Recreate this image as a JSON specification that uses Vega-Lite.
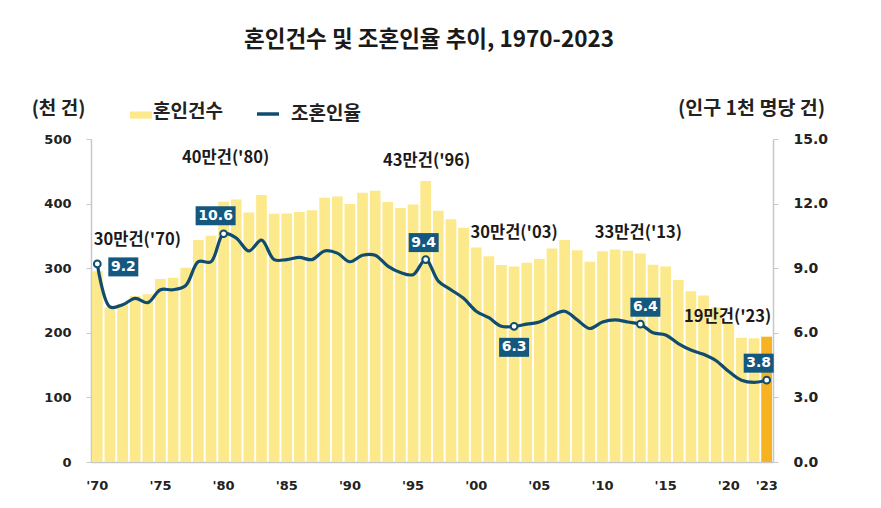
{
  "$schema": "https://vega.github.io/schema/vega-lite/v6.json",
  "width": 682,
  "height": 323,
  "autosize": {"type": "none"},
  "padding": {"left": 91, "top": 139, "right": 108, "bottom": 46},
  "background": "white",
  "title": {
    "text": "혼인건수 및 조혼인율 추이, 1970-2023",
    "font": "Noto Sans CJK KR",
    "fontSize": 22.5,
    "fontWeight": "bold",
    "color": "#1a1a1a",
    "anchor": "middle",
    "dx": -3,
    "offset": 47
  },
  "data": {
    "values": [
      {"year": 1970, "count": 295.1, "rate": 9.2, "note": "30만건('70)"},
      {"year": 1971, "count": 239.5, "rate": 7.2},
      {"year": 1972, "count": 244.8, "rate": 7.3},
      {"year": 1973, "count": 257.0, "rate": 7.6},
      {"year": 1974, "count": 259.6, "rate": 7.4},
      {"year": 1975, "count": 283.2, "rate": 8.0},
      {"year": 1976, "count": 285.4, "rate": 8.0},
      {"year": 1977, "count": 300.6, "rate": 8.2},
      {"year": 1978, "count": 343.6, "rate": 9.3},
      {"year": 1979, "count": 350.4, "rate": 9.3},
      {"year": 1980, "count": 403.0, "rate": 10.6, "note": "40만건('80)"},
      {"year": 1981, "count": 406.5, "rate": 10.4},
      {"year": 1982, "count": 386.2, "rate": 9.8},
      {"year": 1983, "count": 413.2, "rate": 10.3},
      {"year": 1984, "count": 384.3, "rate": 9.4},
      {"year": 1985, "count": 384.6, "rate": 9.4},
      {"year": 1986, "count": 387.0, "rate": 9.5},
      {"year": 1987, "count": 389.8, "rate": 9.4},
      {"year": 1988, "count": 409.2, "rate": 9.8},
      {"year": 1989, "count": 411.1, "rate": 9.7},
      {"year": 1990, "count": 399.3, "rate": 9.3},
      {"year": 1991, "count": 416.9, "rate": 9.6},
      {"year": 1992, "count": 419.8, "rate": 9.6},
      {"year": 1993, "count": 402.6, "rate": 9.1},
      {"year": 1994, "count": 393.1, "rate": 8.8},
      {"year": 1995, "count": 398.5, "rate": 8.7},
      {"year": 1996, "count": 434.9, "rate": 9.4, "note": "43만건('96)"},
      {"year": 1997, "count": 388.9, "rate": 8.4},
      {"year": 1998, "count": 375.6, "rate": 8.0},
      {"year": 1999, "count": 362.7, "rate": 7.6},
      {"year": 2000, "count": 332.1, "rate": 7.0},
      {"year": 2001, "count": 318.4, "rate": 6.7},
      {"year": 2002, "count": 304.9, "rate": 6.3},
      {"year": 2003, "count": 302.5, "rate": 6.3, "note": "30만건('03)"},
      {"year": 2004, "count": 308.6, "rate": 6.4},
      {"year": 2005, "count": 314.3, "rate": 6.5},
      {"year": 2006, "count": 330.6, "rate": 6.8},
      {"year": 2007, "count": 343.6, "rate": 7.0},
      {"year": 2008, "count": 327.7, "rate": 6.6},
      {"year": 2009, "count": 309.8, "rate": 6.2},
      {"year": 2010, "count": 326.1, "rate": 6.5},
      {"year": 2011, "count": 329.1, "rate": 6.6},
      {"year": 2012, "count": 327.1, "rate": 6.5},
      {"year": 2013, "count": 322.8, "rate": 6.4, "note": "33만건('13)"},
      {"year": 2014, "count": 305.5, "rate": 6.0},
      {"year": 2015, "count": 302.8, "rate": 5.9},
      {"year": 2016, "count": 281.6, "rate": 5.5},
      {"year": 2017, "count": 264.5, "rate": 5.2},
      {"year": 2018, "count": 257.6, "rate": 5.0},
      {"year": 2019, "count": 239.2, "rate": 4.7},
      {"year": 2020, "count": 213.5, "rate": 4.2},
      {"year": 2021, "count": 192.5, "rate": 3.8},
      {"year": 2022, "count": 191.7, "rate": 3.7},
      {"year": 2023, "count": 193.7, "rate": 3.8, "note": "19만건('23)"}
    ]
  },
  "encoding": {
    "x": {
      "field": "year",
      "type": "ordinal",
      "scale": {"paddingInner": 0.15, "paddingOuter": 0.075},
      "axis": {
        "title": null,
        "values": [1970, 1975, 1980, 1985, 1990, 1995, 2000, 2005, 2010, 2015, 2020, 2023],
        "labelExpr": "\"'\" + substring(datum.label, 2, 4)",
        "labelAngle": 0,
        "labelFont": "DejaVu Sans",
        "labelFontSize": 13,
        "labelFontWeight": "bold",
        "labelColor": "#222222",
        "labelPadding": 17,
        "ticks": false,
        "domainColor": "#C8C8C8",
        "domainWidth": 1.5
      }
    }
  },
  "layer": [
    {
      "encoding": {
        "y": {
          "field": "count",
          "type": "quantitative",
          "scale": {"domain": [0, 500]},
          "axis": {
            "values": [0, 100, 200, 300, 400, 500],
            "title": "(천 건)",
            "titleAngle": 0,
            "titleX": -33,
            "titleY": -31,
            "titleAlign": "center",
            "titleBaseline": "middle",
            "titleFont": "Noto Sans CJK KR",
            "titleFontSize": 19,
            "titleFontWeight": "bold",
            "titleColor": "#222222",
            "labelFont": "DejaVu Sans",
            "labelFontSize": 13,
            "labelFontWeight": "bold",
            "labelColor": "#222222",
            "labelPadding": 15,
            "tickSize": 5,
            "tickColor": "#C8C8C8",
            "domainColor": "#C8C8C8",
            "domainWidth": 1.5,
            "grid": false
          }
        }
      },
      "layer": [
        {
          "mark": {"type": "bar"},
          "encoding": {
            "fill": {
              "datum": "혼인건수",
              "scale": {"range": ["#FCE98C"]},
              "legend": {
                "orient": "none",
                "legendX": 39,
                "legendY": -38,
                "title": null,
                "padding": 0,
                "symbolType": "M-1,-0.05L1,-0.05L1,0.6L-1,0.6Z",
                "symbolSize": 484,
                "symbolStrokeWidth": 0,
                "labelFont": "Noto Sans CJK KR",
                "labelFontSize": 19,
                "labelFontWeight": "bold",
                "labelColor": "#222222",
                "labelOffset": 1
              }
            }
          }
        },
        {
          "transform": [{"filter": "datum.year == 2023"}],
          "mark": {"type": "bar", "color": "#F6B221"}
        },
        {
          "transform": [{"filter": "datum.year == 1970"}],
          "mark": {"type": "text", "dx": 40, "dy": -31, "font": "Noto Sans CJK KR", "fontSize": 16.5, "fontWeight": "bold", "color": "#1a1a1a"},
          "encoding": {"text": {"field": "note"}}
        },
        {
          "transform": [{"filter": "datum.year == 1980"}],
          "mark": {"type": "text", "dx": 2, "dy": -44, "font": "Noto Sans CJK KR", "fontSize": 16.5, "fontWeight": "bold", "color": "#1a1a1a"},
          "encoding": {"text": {"field": "note"}}
        },
        {
          "transform": [{"filter": "datum.year == 1996"}],
          "mark": {"type": "text", "dx": 1, "dy": -20, "font": "Noto Sans CJK KR", "fontSize": 16.5, "fontWeight": "bold", "color": "#1a1a1a"},
          "encoding": {"text": {"field": "note"}}
        },
        {
          "transform": [{"filter": "datum.year == 2003"}],
          "mark": {"type": "text", "dx": 0, "dy": -34, "font": "Noto Sans CJK KR", "fontSize": 16.5, "fontWeight": "bold", "color": "#1a1a1a"},
          "encoding": {"text": {"field": "note"}}
        },
        {
          "transform": [{"filter": "datum.year == 2013"}],
          "mark": {"type": "text", "dx": -2, "dy": -20, "font": "Noto Sans CJK KR", "fontSize": 16.5, "fontWeight": "bold", "color": "#1a1a1a"},
          "encoding": {"text": {"field": "note"}}
        },
        {
          "transform": [{"filter": "datum.year == 2023"}],
          "mark": {"type": "text", "dx": -39, "dy": -20, "font": "Noto Sans CJK KR", "fontSize": 16.5, "fontWeight": "bold", "color": "#1a1a1a"},
          "encoding": {"text": {"field": "note"}}
        }
      ]
    },
    {
      "encoding": {
        "y": {
          "field": "rate",
          "type": "quantitative",
          "scale": {"domain": [0, 15]},
          "axis": {
            "orient": "right",
            "values": [0, 3, 6, 9, 12, 15],
            "format": ".1f",
            "title": "(인구 1천 명당 건)",
            "titleAngle": 0,
            "titleX": -22,
            "titleY": -31,
            "titleAlign": "center",
            "titleBaseline": "middle",
            "titleFont": "Noto Sans CJK KR",
            "titleFontSize": 19.5,
            "titleFontWeight": "bold",
            "titleColor": "#222222",
            "labelFont": "DejaVu Sans",
            "labelFontSize": 14,
            "labelFontWeight": "bold",
            "labelColor": "#222222",
            "labelPadding": 15,
            "tickSize": 5,
            "tickColor": "#C8C8C8",
            "domainColor": "#C8C8C8",
            "domainWidth": 1.5,
            "grid": false
          }
        }
      },
      "layer": [
        {
          "mark": {"type": "line", "interpolate": "catmull-rom", "strokeWidth": 3.2},
          "encoding": {
            "stroke": {
              "datum": "조혼인율",
              "scale": {"range": ["#0F4C70"]},
              "legend": {
                "orient": "none",
                "legendX": 164,
                "legendY": -38,
                "title": null,
                "padding": 0,
                "symbolType": "stroke",
                "symbolSize": 484,
                "symbolStrokeWidth": 3.5,
                "labelFont": "Noto Sans CJK KR",
                "labelFontSize": 19,
                "labelFontWeight": "bold",
                "labelColor": "#222222",
                "labelOffset": 10
              }
            }
          }
        },
        {
          "transform": [{"filter": "datum.note != null"}],
          "mark": {"type": "point", "filled": true, "fill": "white", "stroke": "#0F4C70", "strokeWidth": 2, "size": 45, "opacity": 1}
        },
        {
          "transform": [{"filter": "datum.note != null"}],
          "mark": {"type": "point", "filled": true, "color": "#14577F", "opacity": 1, "size": 4},
          "encoding": {
            "shape": {
              "condition": [
                {"test": "datum.year == 1970", "value": "M11,-6.5L41,-6.5L41,12.5L11,12.5Z"},
                {"test": "datum.year == 1980", "value": "M-28,-27.5L12,-27.5L12,-8.5L-28,-8.5Z"},
                {"test": "datum.year == 1996", "value": "M-17,-26.5L13,-26.5L13,-7.5L-17,-7.5Z"},
                {"test": "datum.year == 2003", "value": "M-15,11.5L15,11.5L15,30.5L-15,30.5Z"},
                {"test": "datum.year == 2013", "value": "M-10,-26.5L20,-26.5L20,-7.5L-10,-7.5Z"}
              ],
              "value": "M-23,-26.5L7,-26.5L7,-7.5L-23,-7.5Z"
            }
          }
        },
        {
          "transform": [{"filter": "datum.year == 1970"}],
          "mark": {"type": "text", "dx": 26, "dy": 3, "font": "DejaVu Sans", "fontSize": 14, "fontWeight": "bold", "color": "white"},
          "encoding": {"text": {"field": "rate", "format": ".1f"}}
        },
        {
          "transform": [{"filter": "datum.year == 1980"}],
          "mark": {"type": "text", "dx": -8, "dy": -18, "font": "DejaVu Sans", "fontSize": 14, "fontWeight": "bold", "color": "white"},
          "encoding": {"text": {"field": "rate", "format": ".1f"}}
        },
        {
          "transform": [{"filter": "datum.year == 1996"}],
          "mark": {"type": "text", "dx": -2, "dy": -17, "font": "DejaVu Sans", "fontSize": 14, "fontWeight": "bold", "color": "white"},
          "encoding": {"text": {"field": "rate", "format": ".1f"}}
        },
        {
          "transform": [{"filter": "datum.year == 2003"}],
          "mark": {"type": "text", "dx": 0, "dy": 21, "font": "DejaVu Sans", "fontSize": 14, "fontWeight": "bold", "color": "white"},
          "encoding": {"text": {"field": "rate", "format": ".1f"}}
        },
        {
          "transform": [{"filter": "datum.year == 2013"}],
          "mark": {"type": "text", "dx": 5, "dy": -17, "font": "DejaVu Sans", "fontSize": 14, "fontWeight": "bold", "color": "white"},
          "encoding": {"text": {"field": "rate", "format": ".1f"}}
        },
        {
          "transform": [{"filter": "datum.year == 2023"}],
          "mark": {"type": "text", "dx": -8, "dy": -17, "font": "DejaVu Sans", "fontSize": 14, "fontWeight": "bold", "color": "white"},
          "encoding": {"text": {"field": "rate", "format": ".1f"}}
        }
      ]
    }
  ],
  "resolve": {"scale": {"y": "independent"}},
  "config": {
    "view": {"stroke": null},
    "axis": {"grid": false}
  }
}
